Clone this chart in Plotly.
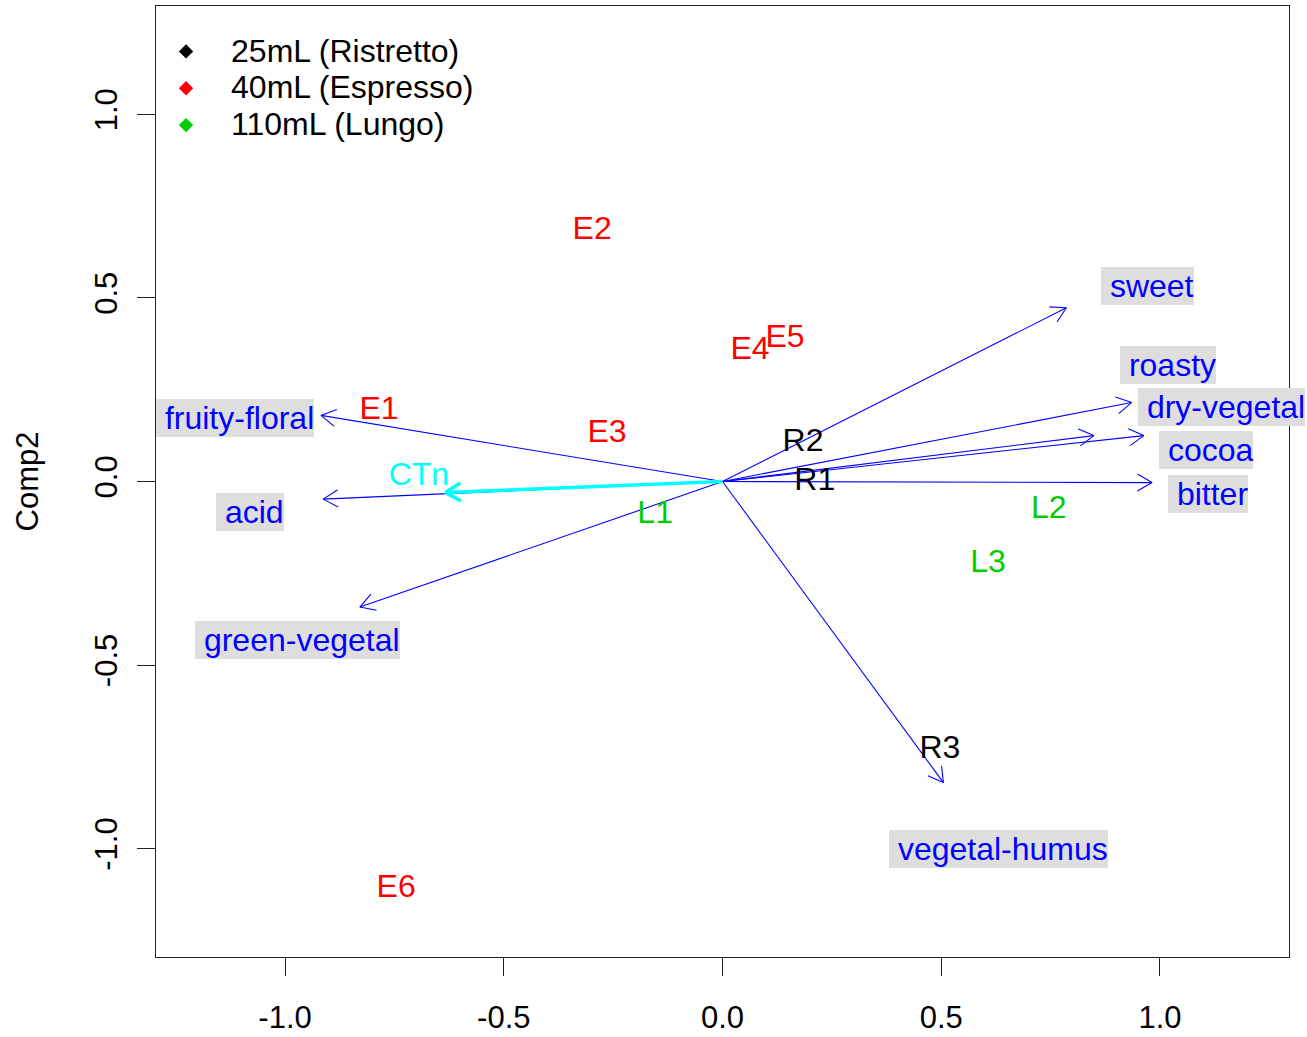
import numpy as np
import plotly.graph_objects as go

# ---------------- data ----------------
# sample scores (labels drawn as text)
ristretto_labels = ["R1", "R2", "R3"]
ristretto_x = [0.211, 0.184, 0.497]
ristretto_y = [0.005, 0.112, -0.725]

espresso_labels = ["E1", "E2", "E3", "E4", "E5", "E6"]
espresso_x = [-0.785, -0.298, -0.264, 0.063, 0.143, -0.746]
espresso_y = [0.199, 0.690, 0.136, 0.363, 0.395, -1.104]

lungo_labels = ["L1", "L2", "L3"]
lungo_x = [-0.154, 0.746, 0.607]
lungo_y = [-0.085, -0.071, -0.218]

# sensory attribute loadings (arrow tips)
attr_names = ["sweet", "roasty", "dry-vegetal", "cocoa", "bitter",
              "fruity-floral", "acid", "green-vegetal", "vegetal-humus"]
attr_x = [0.786, 0.935, 0.849, 0.963, 0.982, -0.918, -0.913, -0.829, 0.505]
attr_y = [0.473, 0.215, 0.125, 0.125, -0.003, 0.180, -0.048, -0.342, -0.820]

# attribute label positions (left edge x, centre y)
attr_label_x = [0.865, 0.909, 0.949, 0.998, 1.018, -1.295, -1.158, -1.206, 0.381]
attr_label_y = [0.532, 0.316, 0.202, 0.085, -0.035, 0.174, -0.082, -0.433, -1.001]

# supplementary variable
ctn_name = "CTn"
ctn_x = -0.634
ctn_y = -0.030
ctn_label_x = -0.694
ctn_label_y = 0.019

legend_names = ["25mL (Ristretto)", "40mL (Espresso)", "110mL (Lungo)"]
legend_colors = ["#000000", "#FF0000", "#00CD00"]

tick_vals = [-1.0, -0.5, 0.0, 0.5, 1.0]
tick_text = ["-1.0", "-0.5", "0.0", "0.5", "1.0"]

# ---------------- layout geometry ----------------
W, H = 1307, 1037
ML, MR, MT, MB = 156, 18, 6, 80
RNG = 1.295
plot_w = W - ML - MR
plot_h = H - MT - MB
sx = plot_w / (2 * RNG)
sy = plot_h / (2 * RNG)
TEXT_DY = -2.5 / sy   # small vertical rendering correction for text labels

FONT = "Liberation Sans, Arial, sans-serif"
FS = 32


def arrow_xy(tx, ty, head_px=17, ang_deg=30):
    """Return x,y lists for shaft + open V head (computed in pixel space)."""
    dx, dy = tx * sx, ty * sy
    n = np.hypot(dx, dy)
    ux, uy = dx / n, dy / n
    xs, ys = [0, tx, None], [0, ty, None]
    for s in (1, -1):
        a = np.deg2rad(ang_deg) * s
        rx = ux * np.cos(a) - uy * np.sin(a)
        ry = ux * np.sin(a) + uy * np.cos(a)
        wx = tx - head_px * rx / sx
        wy = ty - head_px * ry / sy
        xs += [tx, wx, None]
        ys += [ty, wy, None]
    return xs, ys


fig = go.Figure()

# attribute arrows
ax_all, ay_all = [], []
for tx, ty in zip(attr_x, attr_y):
    xs, ys = arrow_xy(tx, ty)
    ax_all += xs
    ay_all += ys
fig.add_trace(go.Scatter(x=ax_all, y=ay_all, mode="lines",
                         line=dict(color="#0000FF", width=1.1),
                         showlegend=False, hoverinfo="skip"))

# CTn arrow
cx, cy = arrow_xy(ctn_x, ctn_y, head_px=18)
fig.add_trace(go.Scatter(x=cx, y=cy, mode="lines",
                         line=dict(color="#00FFFF", width=3.5),
                         showlegend=False, hoverinfo="skip"))
fig.add_trace(go.Scatter(x=[ctn_label_x], y=[ctn_label_y + TEXT_DY], mode="text",
                         text=[ctn_name], textposition="middle center",
                         textfont=dict(family=FONT, size=FS, color="#00FFFF"),
                         showlegend=False, hoverinfo="skip"))

# sample labels
for labs, xs, ys, col in [(ristretto_labels, ristretto_x, ristretto_y, legend_colors[0]),
                          (espresso_labels, espresso_x, espresso_y, legend_colors[1]),
                          (lungo_labels, lungo_x, lungo_y, legend_colors[2])]:
    fig.add_trace(go.Scatter(x=xs, y=np.array(ys) + TEXT_DY, mode="text", text=labs,
                             textposition="middle center",
                             textfont=dict(family=FONT, size=FS, color=col),
                             showlegend=False, hoverinfo="skip"))

# legend entries
for name, col in zip(legend_names, legend_colors):
    fig.add_trace(go.Scatter(x=[None], y=[None], mode="markers",
                             name=f'<span style="font-size:{FS}px">{name}</span>',
                             marker=dict(symbol="diamond", size=11, color=col)))

# attribute labels with grey boxes
for name, lx, ly in zip(attr_names, attr_label_x, attr_label_y):
    fig.add_annotation(x=lx, y=ly, xref="x", yref="y",
                       text="&nbsp;" + name, showarrow=False,
                       xanchor="left", yanchor="middle",
                       font=dict(family=FONT, size=FS, color="#0000FF"),
                       bgcolor="#DEDEDE", borderpad=0, borderwidth=0,
                       height=38)

axis_common = dict(showgrid=False, zeroline=False, showline=True, mirror=True,
                   linecolor="#222222", linewidth=1.2, automargin=False,
                   ticks="outside", ticklen=18, tickwidth=1, tickcolor="#222222",
                   tickvals=tick_vals, ticktext=tick_text,
                   tickfont=dict(family=FONT, size=31, color="#000000"))

fig.update_layout(
    width=W, height=H, autosize=False,
    margin=dict(l=ML, r=MR, t=MT, b=MB, autoexpand=False),
    paper_bgcolor="white", plot_bgcolor="white",
    xaxis=dict(range=[-RNG, RNG], ticklabelstandoff=15, **axis_common),
    yaxis=dict(range=[-RNG, RNG], tickangle=-90, ticklabelstandoff=8,
               title=dict(text="Comp2", font=dict(family=FONT, size=31, color="#000000"),
                          standoff=40),
               **axis_common),
    legend=dict(x=-0.0132, y=0.9768, xanchor="left", yanchor="top",
                bgcolor="rgba(0,0,0,0)", borderwidth=0,
                font=dict(family=FONT, size=26, color="#000000"),
                itemwidth=80, tracegroupgap=0),
    showlegend=True,
)

fig.write_html("out.html",
               config={"displayModeBar": False},
               post_script="document.body.style.margin='0';document.body.style.overflow='hidden';")
